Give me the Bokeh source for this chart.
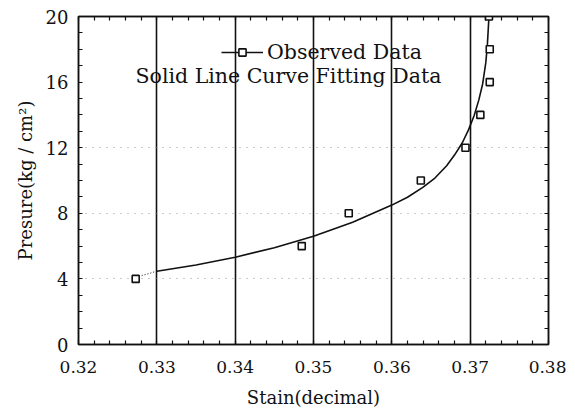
from bokeh.plotting import figure
from bokeh.models import (Range1d, LinearAxis, FixedTicker, Label, Legend, LegendItem,
                          NumeralTickFormatter)
from bokeh.embed import file_html
from bokeh.resources import INLINE

# ---- data ----
obs_strain = [0.3273, 0.3485, 0.3545, 0.3637, 0.3694, 0.3713, 0.3725, 0.3725, 0.3724]
obs_pressure = [4.0, 6.0, 8.0, 10.0, 12.0, 14.0, 16.0, 18.0, 20.0]

fit_strain = [0.3300, 0.3350, 0.3400, 0.3450, 0.3500, 0.3550, 0.3600, 0.3620, 0.3640,
              0.3655, 0.3670, 0.3680, 0.3690, 0.3698, 0.3705, 0.3711, 0.3716, 0.3720,
              0.3722, 0.3724]
fit_pressure = [4.47, 4.85, 5.32, 5.90, 6.60, 7.45, 8.50, 8.98, 9.60,
                10.15, 10.90, 11.55, 12.30, 13.10, 13.95, 14.90, 15.90, 17.20,
                18.30, 20.00]

ext_strain = [0.3277, 0.3300]
ext_pressure = [4.15, 4.47]

x_ticks = [0.32, 0.33, 0.34, 0.35, 0.36, 0.37, 0.38]
y_ticks = [0, 4, 8, 12, 16, 20]
x_minor = [round(0.32 + i * 0.002, 3) for i in range(31)]
y_minor = list(range(0, 21))

FONT = "DejaVu Serif"
INK = "#111111"

p = figure(width=566, height=411, output_backend="svg", toolbar_location=None,
           x_range=Range1d(0.32, 0.38), y_range=Range1d(0, 20),
           min_border_left=78, min_border_right=18, min_border_top=16, min_border_bottom=67,
           background_fill_color="white", border_fill_color="white")
p.outline_line_color = INK
p.outline_line_width = 1.5

# axes
xa = p.xaxis[0]
xa.ticker = FixedTicker(ticks=x_ticks, minor_ticks=x_minor)
xa.formatter = NumeralTickFormatter(format="0.00")
ya = p.yaxis[0]
ya.ticker = FixedTicker(ticks=y_ticks, minor_ticks=y_minor)
for ax in (xa, ya):
    ax.axis_line_color = INK
    ax.axis_line_width = 1.5
    ax.major_tick_out = 0
    ax.major_tick_in = 0
    ax.minor_tick_out = 0
    ax.minor_tick_in = 4
    ax.minor_tick_line_color = INK
    ax.minor_tick_line_width = 1.2
    ax.major_label_text_font = FONT
    ax.major_label_text_color = INK
    ax.axis_label_text_font = FONT
    ax.axis_label_text_font_style = "normal"
    ax.axis_label_text_color = INK
xa.major_label_text_font_size = "17px"
ya.major_label_text_font_size = "18px"
xa.major_label_standoff = 16
ya.major_label_standoff = 10
xa.axis_label = "Stain(decimal)"
ya.axis_label = "Presure(kg / cm²)"
xa.axis_label_text_font_size = "18px"
ya.axis_label_text_font_size = "18px"
xa.axis_label_standoff = 11
ya.axis_label_standoff = 7

for loc, minors in (("above", x_minor), ("right", y_minor)):
    ax = LinearAxis(ticker=FixedTicker(ticks=[], minor_ticks=minors))
    ax.major_label_standoff = 0
    ax.axis_line_color = INK
    ax.axis_line_width = 1.5
    ax.major_tick_out = 0
    ax.major_tick_in = 0
    ax.minor_tick_out = 0
    ax.minor_tick_in = 4
    ax.minor_tick_line_color = INK
    ax.minor_tick_line_width = 1.2
    p.add_layout(ax, loc)

# grids
p.xgrid.ticker = FixedTicker(ticks=x_ticks)
p.xgrid.grid_line_color = INK
p.xgrid.grid_line_width = 1.6
p.ygrid.ticker = FixedTicker(ticks=[4, 8, 12])
p.ygrid.grid_line_color = "#999999"
p.ygrid.grid_line_width = 1
p.ygrid.grid_line_dash = "1 6"

# fitted curve
p.line(ext_strain, ext_pressure, line_color=INK, line_width=1, line_dash="1 2")
fit = p.line(fit_strain, fit_pressure, line_color=INK, line_width=1.6)

# observed points
sc = p.scatter(obs_strain, obs_pressure, marker="square", size=7,
               fill_color="white", line_color=INK, line_width=1.6)

# legend
legend = Legend(items=[LegendItem(label="Observed Data", renderers=[fit, sc])],
                location=(143, 280), orientation="vertical",
                glyph_width=42, glyph_height=18, label_standoff=4,
                padding=0, margin=0, spacing=0,
                border_line_alpha=0, background_fill_alpha=0,
                label_text_font=FONT, label_text_font_size="20.5px", label_text_color=INK)
p.add_layout(legend, "center")

p.add_layout(Label(x=0.32728, y=16.35, text="Solid Line Curve Fitting Data",
                   text_font=FONT, text_font_size="20.5px", text_color=INK,
                   text_baseline="alphabetic", text_align="left"))

open("out.html", "w").write(file_html(p, INLINE))
